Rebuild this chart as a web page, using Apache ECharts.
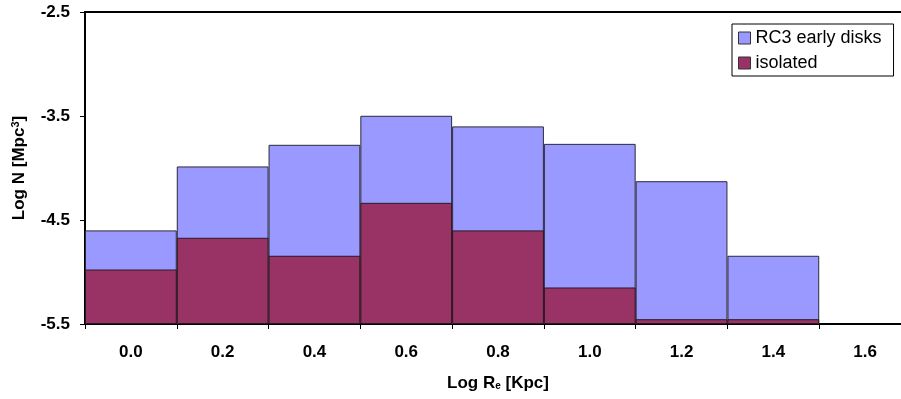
<!DOCTYPE html>
<html>
<head>
<meta charset="utf-8">
<script src="https://cdn.jsdelivr.net/npm/echarts@6/dist/echarts.min.js"></script>
<style>
  html, body { margin: 0; padding: 0; background: #fff; }
  #chart { width: 901px; height: 399px; }
</style>
</head>
<body>
<div id="chart"></div>
<script>
// log Re bins
const categories = ["0.0", "0.2", "0.4", "0.6", "0.8", "1.0", "1.2", "1.4", "1.6"];
const rc3Disks = [-4.60, -3.985, -3.777, -3.498, -3.60, -3.768, -4.127, -4.844, null];
const isolated = [-4.976, -4.671, -4.844, -4.335, -4.60, -5.149, -5.454, -5.454, null];
const yTicks = [-5.5, -4.5, -3.5, -2.5];

// bars grow up from the bottom of the axis, so values are measured from there
const BASE = yTicks[0];
const fromBase = arr => arr.map(v => (v == null ? null : v - BASE));

const FONT = "Liberation Sans";
const chart = echarts.init(document.getElementById("chart"));

chart.setOption({
  animation: false,
  textStyle: { fontFamily: FONT },
  grid: {
    left: 85, top: 12, right: -10, bottom: 75,
    outerBoundsMode: "none",
    containLabel: false,
    show: true, borderColor: "#000", borderWidth: 2
  },
  legend: {
    orient: "vertical",
    left: 732, top: 24,
    padding: [5, 12, 4, 6],
    itemGap: 7,
    itemWidth: 12, itemHeight: 12,
    backgroundColor: "#fff",
    borderColor: "#000", borderWidth: 1,
    icon: "rect",
    textStyle: { fontFamily: FONT, fontSize: 18, color: "#000", padding: [0, 0, 0, 0] },
    data: [
      { name: "RC3 early disks", itemStyle: { borderColor: "#333", borderWidth: 1 } },
      { name: "isolated", itemStyle: { borderColor: "#333", borderWidth: 1 } }
    ]
  },
  xAxis: {
    type: "category",
    data: categories,
    boundaryGap: true,
    axisLine: { lineStyle: { color: "#000", width: 2 } },
    axisTick: { show: true, length: 5, lineStyle: { color: "#000" } },
    axisLabel: { color: "#000", fontSize: 17, fontWeight: "bold", margin: 20 },
    name: "{a|Log R}{s|e}{a| [Kpc]}",
    nameLocation: "middle",
    nameGap: 49,
    nameTextStyle: {
      rich: {
        a: { fontFamily: FONT, fontSize: 17, fontWeight: "bold", color: "#000", lineHeight: 20 },
        s: { fontFamily: FONT, fontSize: 10, fontWeight: "bold", color: "#000", lineHeight: 20, padding: [7, 0, 0, 0] }
      }
    }
  },
  yAxis: {
    type: "value",
    min: 0, max: yTicks[yTicks.length - 1] - BASE, interval: 1,
    splitLine: { show: false },
    axisLine: { show: true, lineStyle: { color: "#000", width: 2 } },
    axisTick: { show: true, length: 5, lineStyle: { color: "#000" } },
    axisLabel: {
      color: "#000", fontSize: 17, fontWeight: "bold", margin: 15,
      formatter: v => (v + BASE).toFixed(1)
    },
    name: "{a|Log N [Mpc}{s|3}{a|]}",
    nameLocation: "middle",
    nameGap: 56,
    nameTextStyle: {
      rich: {
        a: { fontFamily: FONT, fontSize: 17, fontWeight: "bold", color: "#000", lineHeight: 20 },
        s: { fontFamily: FONT, fontSize: 11, fontWeight: "bold", color: "#000", lineHeight: 20, padding: [0, 0, 7, 0] }
      }
    }
  },
  series: [
    {
      name: "RC3 early disks",
      type: "bar",
      data: fromBase(rc3Disks),
      barCategoryGap: "0%",
      barGap: "-100%",
      itemStyle: { color: "#9999FF", borderColor: "#2a2a3a", borderWidth: 1 }
    },
    {
      name: "isolated",
      type: "bar",
      data: fromBase(isolated),
      barCategoryGap: "0%",
      barGap: "-100%",
      itemStyle: { color: "#993366", borderColor: "#2a1a22", borderWidth: 1 }
    }
  ]
});
</script>
</body>
</html>
